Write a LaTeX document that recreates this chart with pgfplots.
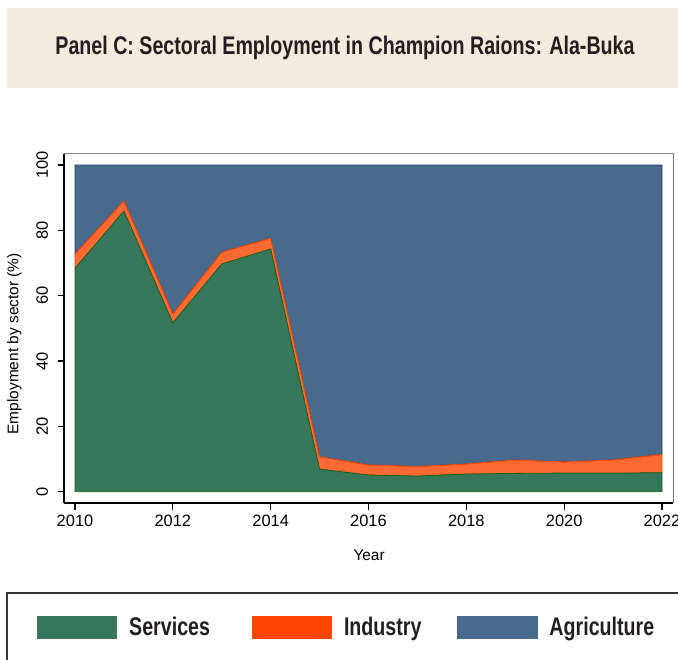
\documentclass[border=0pt]{standalone}
\usepackage{pgfplots}
\usepackage{pgfplotstable}
\usepackage{fontspec}
\pgfplotsset{compat=1.18}
\setmainfont{Liberation Sans}
\newfontfamily\condfont{Liberation Sans}[FakeStretch=0.77]
\definecolor{beige}{RGB}{243,235,221}
\definecolor{servfill}{RGB}{53,119,88}
\definecolor{servline}{RGB}{20,100,30}
\definecolor{indfill}{RGB}{255,69,0}
\definecolor{agrfill}{RGB}{72,106,140}
\definecolor{agrline}{RGB}{30,70,110}
\definecolor{txt}{RGB}{35,31,32}
\pgfplotstableread{
year serv ind agr
2010 68.4 4.4 27.2
2011 85.9 3.1 11.0
2012 51.7 2.7 45.6
2013 69.7 3.6 26.7
2014 74.3 3.3 22.4
2015 6.9 3.8 89.3
2016 5.1 3.1 91.8
2017 4.8 2.9 92.3
2018 5.4 3.1 91.5
2019 5.6 4.1 90.3
2020 5.7 3.4 90.9
2021 5.7 4.0 90.3
2022 5.8 5.6 88.6
}\data
\begin{document}
\begin{tikzpicture}
\useasboundingbox (0,0) rectangle (678bp,660bp);
\fill[beige] (7bp,572bp) rectangle (700bp,652bp);
\node[anchor=base, text=txt, inner sep=0pt] at (345bp,605bp) {\condfont\bfseries\fontsize{25.6}{28}\selectfont Panel C: Sectoral Employment in Champion Raions: Ala-Buka};
\draw[line width=1.3bp, black!80] (7bp,-20bp) |- (720bp,67bp);
\begin{axis}[
  at={(64bp,157bp)}, anchor=south west,
  scale only axis, width=609bp, height=349bp,
  xmin=2009.775, xmax=2022.225, ymin=-3.46, ymax=103.37,
  axis x line*=bottom, axis y line*=left,
  axis line style={line width=2bp, black},
  xtick={2010,2012,...,2022}, ytick={0,20,...,100},
  tick align=outside, major tick length=6.5bp,
  tick style={line width=1.3bp, black},
  /pgf/number format/assume math mode=true,
  xticklabel style={/pgf/number format/1000 sep=, font=\fontsize{16.5}{18}\selectfont, yshift=-2bp},
  yticklabel style={rotate=90, anchor=south, font=\fontsize{16.5}{18}\selectfont, yshift=6bp},
  xlabel={Year}, ylabel={Employment by sector (\%)},
  label style={font=\fontsize{15.5}{18}\selectfont},
  xlabel style={at={(axis description cs:0.501,-0.149)}, anchor=center},
  ylabel style={at={(axis description cs:-0.0816,0.456)}, anchor=center},
  stack plots=y,
  legend image code/.code={\fill[#1, draw=none] (0bp,-11.6bp) rectangle (80bp,11.6bp);},
  legend columns=3,
  legend cell align=left,
  legend style={at={(axis description cs:-0.0443,-0.3564)}, anchor=west,
    draw=none, fill=none, inner sep=0pt, column sep=12bp,
    /tikz/every even column/.append style={column sep=42bp},
    font=\condfont\bfseries\fontsize{25.6}{28}\selectfont,
    nodes={inner sep=0pt, text=txt}},
  after end axis/.code={\draw[gray, line width=1bp] (rel axis cs:0,1) -- (rel axis cs:1,1) -- (rel axis cs:1,0);},
]
\addplot[fill=servfill, draw=servline, line width=0.8bp, forget plot] table[x=year, y=serv] {\data} \closedcycle;
\addplot[fill=indfill, fill opacity=0.8, draw=indfill, line width=0.8bp, forget plot] table[x=year, y=ind] {\data} \closedcycle;
\addplot[fill=agrfill, draw=agrline, line width=0.8bp, forget plot] table[x=year, y=agr] {\data} \closedcycle;
\addlegendimage{fill=servfill, draw=none}
\addlegendentry{Services}
\addlegendimage{fill=indfill, draw=none}
\addlegendentry{Industry\kern-6bp}
\addlegendimage{fill=agrfill, draw=none}
\addlegendentry{Agriculture}
\end{axis}
\end{tikzpicture}
\end{document}
